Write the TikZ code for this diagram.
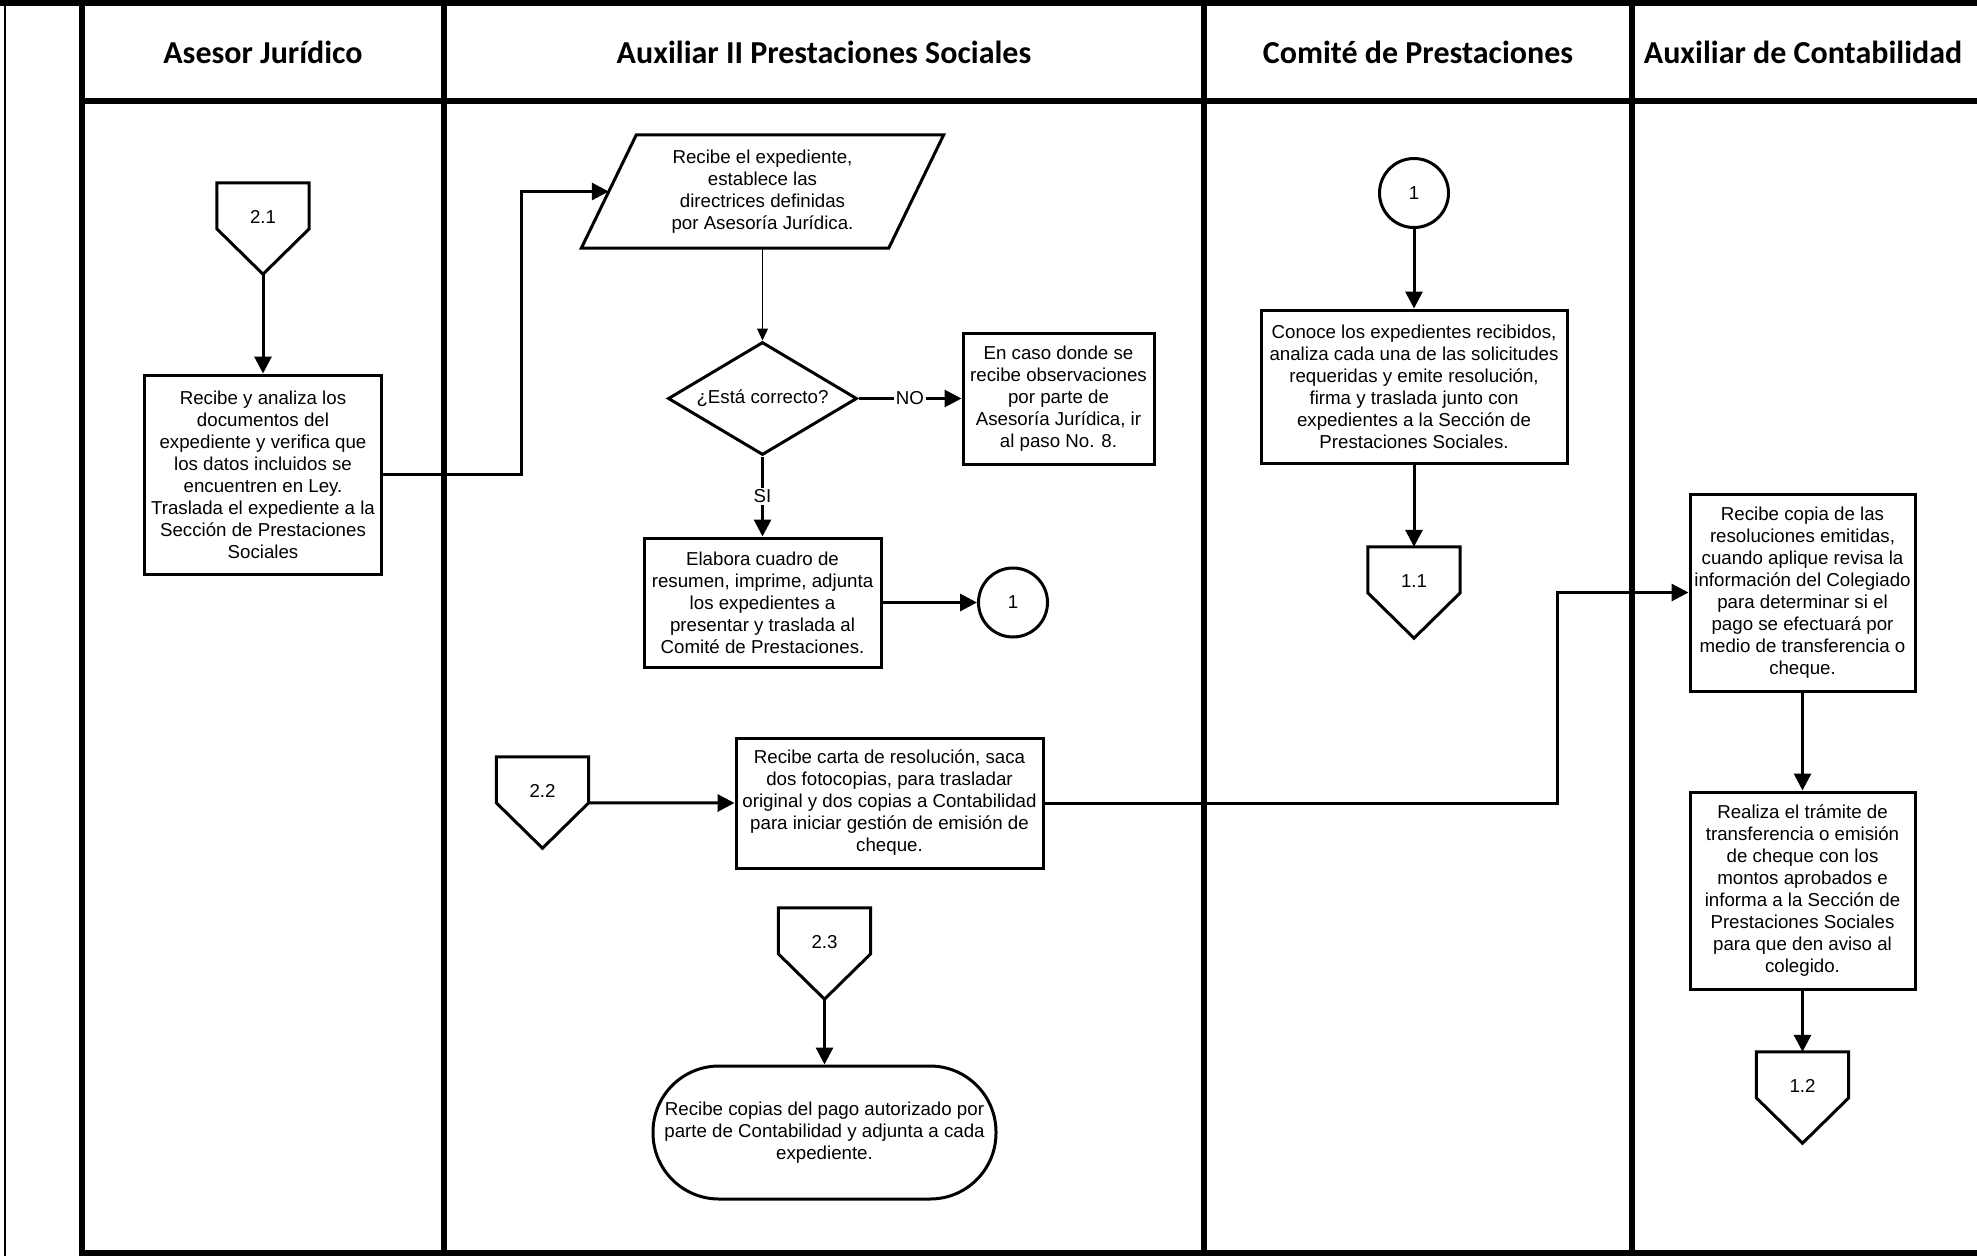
\documentclass[tikz,border=0pt]{standalone}
\usepackage{fontspec}
\setmainfont{Liberation Sans}
\newfontfamily\hdrfont{Carlito}
\usetikzlibrary{arrows.meta,shapes.geometric,calc}

\tikzset{
  frame/.style={line width=6pt},
  edge/.style={line width=3pt},
  flow/.style={line width=3pt,-{Triangle[length=17pt,width=17pt]}},
  thinflow/.style={line width=1.2pt,-{Triangle[length=12pt,width=11pt]}},
  txt/.style={font=\fontsize{18.7}{22}\selectfont, align=center, inner sep=0pt},
  procbox/.style={txt, draw, line width=3pt},
  hdr/.style={font=\hdrfont\bfseries\fontsize{32}{38}\selectfont, inner sep=0pt},
  tag/.style={txt, fill=white, inner sep=2pt},
  conn/.style={txt, draw, line width=3pt, circle, minimum size=69pt},
}

% off-page connector: name, x, top y, label
\newcommand\offpage[4]{%
  \node[minimum width=92pt, minimum height=91pt, inner sep=0pt] (#1) at (#2,#3+45.5) {};
  \draw[edge] (#1.north west) -- (#1.north east) -- ($(#1.north east)+(0,46)$)
    -- (#1.south) -- ($(#1.north west)+(0,46)$) -- cycle;
  \node[txt] (#1-t) at ($(#1.north)+(0,34)$) {#4};
  \coordinate (#1-r) at ($(#1.north east)+(0,46)$);
}

\begin{document}
\begin{tikzpicture}[x=1pt,y=-1pt]
\useasboundingbox (0,0) rectangle (1977,1256);

% swimlane frame
\draw[line width=2.5pt] (5,0) -- (5,1256);
\draw[frame] (0,2.5) -- (1977,2.5);
\foreach \lx in {82,444,1204,1632} \draw[frame] (\lx,0) -- (\lx,1256);
\draw[frame] (82,101) -- (1977,101);
\draw[frame] (82,1253) -- (1977,1253);

% lane headers
\node[hdr] (h1) at (263,52) {Asesor Jurídico};
\node[hdr] (h2) at (824,52) {Auxiliar II Prestaciones Sociales};
\node[hdr] (h3) at (1418,52) {Comité de Prestaciones};
\node[hdr] (h4) at (1803,52) {Auxiliar de Contabilidad};

% Asesor Jurídico
\offpage{off21}{263}{183}{2.1}
\node[procbox, minimum width=237pt, minimum height=199pt] (recv) at (263,474.5)
  {Recibe y analiza los\\documentos del\\expediente y verifica que\\los datos incluidos se\\encuentren en Ley.\\Traslada el expediente a la\\Sección de Prestaciones\\Sociales};

% Auxiliar II Prestaciones Sociales
\node[txt, minimum width=307pt, minimum height=113pt] (para) at (762.5,191.5)
  {Recibe el expediente,\\establece las\\directrices definidas\\por Asesoría Jurídica.};
\draw[edge] ($(para.north west)+(27.5,0)$) -- ($(para.north east)+(27.5,0)$)
  -- ($(para.south east)+(-27.5,0)$) -- ($(para.south west)+(-27.5,0)$) -- cycle;

\node[txt, draw, line width=3pt, diamond, aspect=1.67, minimum width=189pt, minimum height=113pt] (dec) at (762.5,398.5)
  {¿Está correcto?};
\node[procbox, minimum width=191pt, minimum height=131pt] (obs) at (1058.5,398.5)
  {En caso donde se\\recibe observaciones\\por parte de\\Asesoría Jurídica, ir\\al paso No. 8.};
\node[procbox, minimum width=237pt, minimum height=129pt] (elab) at (762.5,602.5)
  {Elabora cuadro de\\resumen, imprime, adjunta\\los expedientes a\\presentar y traslada al\\Comité de Prestaciones.};
\node[conn] (c1a) at (1013,602.5) {1};

\offpage{off22}{542.5}{757}{2.2}
\node[procbox, minimum width=307pt, minimum height=130pt] (carta) at (889.5,803)
  {Recibe carta de resolución, saca\\dos fotocopias, para trasladar\\original y dos copias a Contabilidad\\para iniciar gestión de emisión de\\cheque.};

\offpage{off23}{824.5}{908}{2.3}
\node[procbox, rounded corners=66pt, minimum width=343pt, minimum height=133pt] (fin) at (824.5,1132.5)
  {Recibe copias del pago autorizado por\\parte de Contabilidad y adjunta a cada\\expediente.};

% Comité de Prestaciones
\node[conn] (c1b) at (1414,193) {1};
\node[procbox, minimum width=306pt, minimum height=153pt] (conoce) at (1414,386.5)
  {Conoce los expedientes recibidos,\\analiza cada una de las solicitudes\\requeridas y emite resolución,\\firma y traslada junto con\\expedientes a la Sección de\\Prestaciones Sociales.};
\offpage{off11}{1414}{547}{1.1}

% Auxiliar de Contabilidad
\node[procbox, minimum width=225pt, minimum height=197pt] (copia) at (1802.5,592.5)
  {Recibe copia de las\\resoluciones emitidas,\\cuando aplique revisa la\\información del Colegiado\\para determinar si el\\pago se efectuará por\\medio de transferencia o\\cheque.};
\node[procbox, minimum width=225pt, minimum height=197pt] (tramite) at (1802.5,890.5)
  {Realiza el trámite de\\transferencia o emisión\\de cheque con los\\montos aprobados e\\informa a la Sección de\\Prestaciones Sociales\\para que den aviso al\\colegido.};
\offpage{off12}{1802.5}{1052}{1.2}

% connectors
\draw[flow] (off21.south) -- (recv.north);
\draw[flow] (recv.east) -- ++(138,0) |- (para.west);
\draw[thinflow] (para.south) -- (dec.north);
\draw[flow] (dec.east) -- node[tag] (no) {NO} (obs.west);
\draw[flow] (dec.south) -- node[tag] (si) {SI} (elab.north);
\draw[flow] (elab.east) -- (c1a.west);
\draw[flow] (c1b.south) -- (conoce.north);
\draw[flow] (conoce.south) -- (off11.north);
\draw[flow] (off22-r) -- (carta.west);
\draw[flow] (carta.east) -- ++(513,0) |- (copia.west);
\draw[flow] (copia.south) -- (tramite.north);
\draw[flow] (tramite.south) -- (off12.north);
\draw[flow] (off23.south) -- (fin.north);
\end{tikzpicture}
\end{document}
